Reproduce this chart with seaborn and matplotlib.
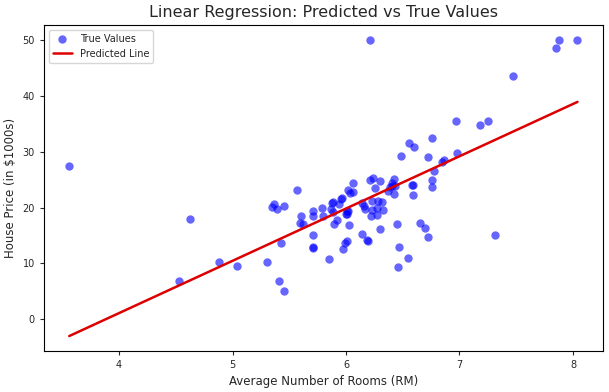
import numpy as np
import seaborn as sns
import matplotlib.pyplot as plt

# test set: average rooms vs true house price
rm = [3.561, 4.628, 4.526, 4.884, 5.042, 5.307, 5.410, 5.456, 5.430, 5.368,
      5.350, 5.395, 5.456, 5.568, 5.606, 5.597, 5.618, 5.712, 5.712, 5.712,
      5.706, 5.712, 5.791, 5.797, 5.867, 5.879, 5.888, 5.882, 5.941, 5.953,
      5.962, 5.917, 5.896, 5.853, 6.002, 6.011, 6.006, 6.020, 6.029, 5.976,
      5.988, 6.011, 6.017, 6.032, 6.064, 6.064, 6.140, 6.182, 6.190, 6.143,
      6.158, 6.170, 6.214, 6.214, 6.240, 6.302, 6.253, 6.232, 6.285, 6.315,
      6.326, 6.273, 6.229, 6.223, 6.270, 6.302, 6.385, 6.405, 6.428, 6.373,
      6.423, 6.420, 6.408, 6.451, 6.469, 6.460, 6.549, 6.487, 6.558, 6.595,
      6.593, 6.578, 6.590, 6.655, 6.700, 6.725, 6.725, 6.760, 6.778, 6.760,
      6.754, 6.849, 6.863, 6.972, 6.981, 7.183, 7.254, 7.316, 7.474, 7.853,
      7.879, 8.040]
price = [27.5, 17.9, 6.9, 10.2, 9.6, 10.3, 6.9, 5.0, 13.7, 20.7,
         20.1, 19.7, 20.2, 23.1, 18.4, 17.3, 17.1, 19.4, 18.4, 15.0,
         13.0, 12.7, 20.0, 18.4, 19.7, 20.9, 21.0, 19.2, 20.6, 21.6,
         21.7, 17.7, 17.1, 10.7, 18.9, 18.9, 19.4, 19.4, 16.8, 12.6,
         13.6, 14.0, 23.2, 22.6, 22.7, 24.4, 15.2, 14.1, 14.0, 20.8,
         20.3, 19.8, 50.0, 25.0, 25.3, 24.7, 23.5, 21.1, 21.2, 21.0,
         19.5, 19.9, 19.5, 18.5, 18.6, 16.1, 23.6, 23.9, 23.9, 22.9,
         22.5, 25.1, 24.4, 17.0, 13.0, 9.4, 10.9, 29.2, 31.5, 30.8,
         22.3, 24.1, 24.1, 17.2, 16.3, 14.8, 29.0, 32.4, 26.5, 25.0,
         23.7, 28.1, 28.5, 35.5, 29.7, 34.7, 35.5, 15.0, 43.5, 48.5,
         50.0, 50.0]

# fitted model coefficients
slope = 9.355
intercept = -36.31

rm = np.array(rm)
pred = slope * rm + intercept

sns.set_style("ticks")
plt.rcParams['font.family'] = ['DejaVu Sans']

fig, ax = plt.subplots(figsize=(6.09, 3.92), dpi=100)
sns.scatterplot(x=rm, y=price, color='blue', alpha=0.6, s=36, linewidth=0,
                label='True Values', ax=ax)
sns.lineplot(x=rm, y=pred, color='#dd0000', linewidth=1.8, errorbar=None,
             label='Predicted Line', ax=ax)

ax.set_title('Linear Regression: Predicted vs True Values', fontsize=11.5)
ax.set_xlabel('Average Number of Rooms (RM)', fontsize=8.5)
ax.set_ylabel('House Price (in $1000s)', fontsize=8.5)
ax.tick_params(labelsize=7, length=3)
ax.legend(loc='upper left', frameon=True, fontsize=7)
for s in ax.spines.values():
    s.set_color('black')
    s.set_linewidth(0.8)

plt.subplots_adjust(left=0.072, right=0.990, bottom=0.105, top=0.936)
plt.savefig('out.png', dpi=100)
